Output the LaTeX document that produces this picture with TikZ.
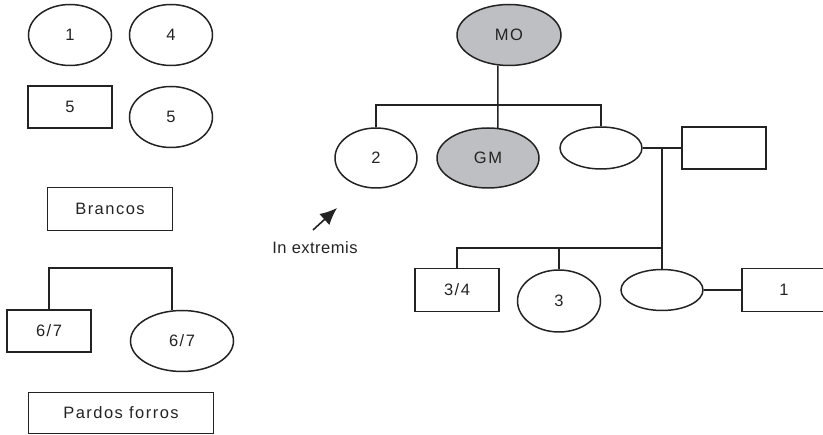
\documentclass[tikz,border=0pt]{standalone}
\usepackage{fontspec}
\setmainfont{Liberation Sans}[LetterSpace=9]
\usetikzlibrary{arrows.meta,shapes.geometric}
\definecolor{kinshade}{RGB}{190,191,194}
\definecolor{ink}{RGB}{35,35,35}

\begin{document}
\begin{tikzpicture}[x=1pt, y=-1pt, line width=1.5pt, draw=ink,
  every node/.style={font=\fontsize{16.5}{19}\selectfont, text=ink},
  fem/.style={draw=ink, ellipse, inner sep=0pt, minimum width=83pt, minimum height=61pt},
  masc/.style={draw=ink, rectangle, inner sep=0pt, minimum width=84pt, minimum height=42pt},
  tagbox/.style={masc, minimum height=43pt},
  kin/.style={fill=kinshade},
  tie/.style={draw=ink, line width=1.5pt},
  pointer/.style={-{Latex[length=17pt,width=15pt]}, draw=ink, fill=ink, line width=1.6pt},
]
  \useasboundingbox (0,0) rectangle (823,435);

  \node[fem]  (f1)   at (70,35)   {1};
  \node[fem]  (f4)   at (171,35)  {4};
  \node[masc] (m5)   at (70,107)  {5};
  \node[fem]  (f5)   at (171,117) {5};
  \node[tagbox, minimum width=125pt] (brancos) at (110,209) {Brancos};

  \node[masc] (m67)  at (49,331)  {6/7};
  \node[fem, minimum width=103pt] (f67) at (182,341) {6/7};
  \node[tagbox, minimum width=185pt, minimum height=41pt] (pardos) at (121,413) {Pardos forros};

  \node[fem, kin, minimum width=104pt] (mo) at (509,35) {MO};
  \node[fem, minimum width=82pt, minimum height=60pt] (f2) at (376,158) {2};
  \node[fem, kin, minimum width=102pt, minimum height=60pt] (gm) at (488,158) {GM};
  \node[fem, minimum width=82pt, minimum height=42pt] (fx) at (601,148) {};
  \node[masc] (mx)   at (724,148) {};

  \node[masc, minimum height=43pt] (m34) at (457,290) {3/4};
  \node[fem, minimum height=62pt] (f3) at (559,301) {3};
  \node[fem, minimum width=82pt, minimum height=41pt] (fy) at (662,290) {};
  \node[masc, minimum height=43pt] (m1) at (784,290) {1};

  \node (extremis) at (315,248) {\addfontfeature{LetterSpace=3}In extremis};
  \coordinate (ptrtail) at (313,230);
  \coordinate (ptrtip)  at (337,208);

  \draw[tie] (m67.north) |- ++(0,-41) -| (f67.108);

  \draw[tie] (mo.250) -- (gm.72);
  \draw[tie] (f2.north) -- ++(0,-22) -| (fx.north);
  \draw[tie] (fx.east) -- node[coordinate, pos=.5] (cpl) {} (mx.west);
  \draw[tie] (cpl) -- (fy.north);
  \coordinate (kids) at (661,248);
  \draw[tie] (m34.north) |- (kids);
  \draw[tie] (f3.north) -- (f3.north |- kids);
  \draw[tie] (fy) -- (m1);

  \draw[pointer] (ptrtail) -- (ptrtip);
\end{tikzpicture}
\end{document}
